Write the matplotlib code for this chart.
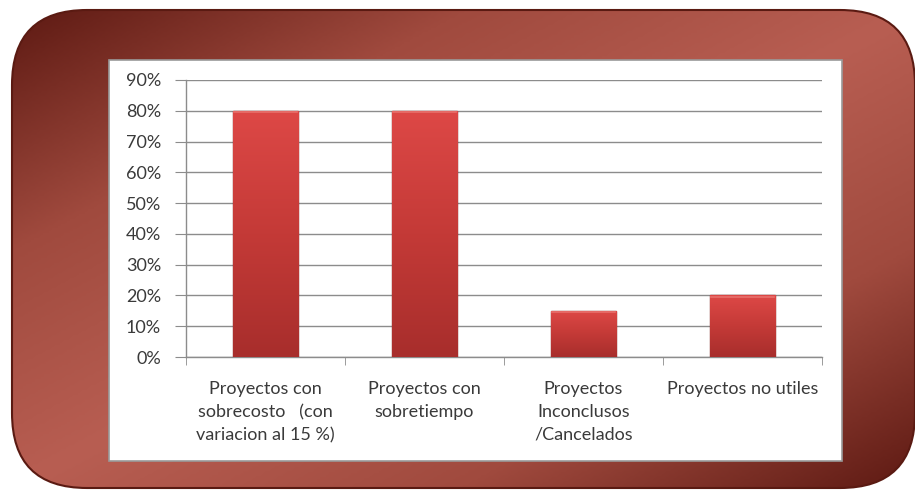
"""
Proyectos: sobrecosto, sobretiempo, cancelados, no utiles
"""
import numpy as np
import matplotlib
matplotlib.use("Agg")
import matplotlib.pyplot as plt
from matplotlib.patches import FancyBboxPatch, Rectangle
from matplotlib.colors import LinearSegmentedColormap

categories = [
    "Proyectos con\nsobrecosto   (con\nvariacion al 15 %)",
    "Proyectos con\nsobretiempo",
    "Proyectos\nInconclusos\n/Cancelados",
    "Proyectos no utiles",
]
values = [0.80, 0.80, 0.15, 0.20]
y_ticks = [0.0, 0.1, 0.2, 0.3, 0.4, 0.5, 0.6, 0.7, 0.8, 0.9]
y_labels = ["0%", "10%", "20%", "30%", "40%", "50%", "60%", "70%", "80%", "90%"]

W, H = 915, 498
plt.rcParams["font.family"] = ["Lato", "DejaVu Sans"]

fig = plt.figure(figsize=(W / 100, H / 100), dpi=100)
fig.patch.set_facecolor("white")

# background: rounded red frame with diagonal gradient
bg = fig.add_axes([0, 0, 1, 1])
bg.set_xlim(0, W)
bg.set_ylim(H, 0)
bg.axis("off")

frame_cmap = LinearSegmentedColormap.from_list(
    "frame", ["#5e1a13", "#a04a3e", "#b85e52", "#a04a3e", "#5e1a13"])
xx, yy = np.meshgrid(np.linspace(0, 1, 300), np.linspace(0, 1, 200))
t = (xx + yy) / 2
frame = FancyBboxPatch((12, 10), W - 12, 488 - 10,
                       boxstyle="round,pad=0,rounding_size=75",
                       facecolor="none", edgecolor="#5a1a12", linewidth=1.5)
bg.add_patch(frame)
img = bg.imshow(t, cmap=frame_cmap, extent=(12, W, 488, 10),
                aspect="auto", interpolation="bilinear")
img.set_clip_path(frame)

# white panel
bg.add_patch(Rectangle((109, 60), 842 - 109, 461 - 60,
                       facecolor="white", edgecolor="#9a9a9a", linewidth=1.2))

# chart
left, right, top, bottom = 186, 822, 80, 357
ax = fig.add_axes([left / W, 1 - bottom / H, (right - left) / W, (bottom - top) / H])
ax.set_facecolor("none")

x = np.arange(len(values))
bars = ax.bar(x, values, width=0.41, color="#c63a36", edgecolor="#7e1f1c",
              linewidth=1.0, zorder=3)

bar_cmap = LinearSegmentedColormap.from_list("bar", ["#a82e2c", "#c43a37", "#dd4846"])
grad = np.linspace(0, 1, 100).reshape(-1, 1)
for b in bars:
    bx, by = b.get_x(), b.get_y()
    bw, bh = b.get_width(), b.get_height()
    im = ax.imshow(grad, cmap=bar_cmap, origin="lower", aspect="auto",
                   extent=(bx, bx + bw, by, by + bh), zorder=3.5)
    im.set_clip_path(b)
    # thin highlight on top edge
    ax.plot([bx + 0.01, bx + bw - 0.01], [by + bh - 0.004] * 2,
            color="#e8706c", lw=1.2, zorder=4)

ax.set_xlim(-0.5, len(values) - 0.5)
ax.set_ylim(0, 0.9)
ax.set_yticks(y_ticks)
ax.set_yticklabels(y_labels, fontsize=13, color="#3a3a3a")
ax.yaxis.grid(True, color="#8c8c8c", linewidth=1.0, zorder=0)
ax.set_axisbelow(True)

ax.set_xticks(x)
ax.set_xticklabels(categories, fontsize=13, color="#3a3a3a", linespacing=1.55,
                   va="top")
ax.set_xticks(np.arange(-0.5, len(values), 1), minor=True)
ax.tick_params(axis="x", which="major", length=0, pad=17)
ax.tick_params(axis="x", which="minor", length=6, color="#8c8c8c", direction="out")
ax.tick_params(axis="y", length=8, color="#8c8c8c", pad=10)

for s in ["top", "right"]:
    ax.spines[s].set_visible(False)
for s in ["left", "bottom"]:
    ax.spines[s].set_color("#8c8c8c")
    ax.spines[s].set_linewidth(1.0)

fig.savefig("out.png", dpi=100)
